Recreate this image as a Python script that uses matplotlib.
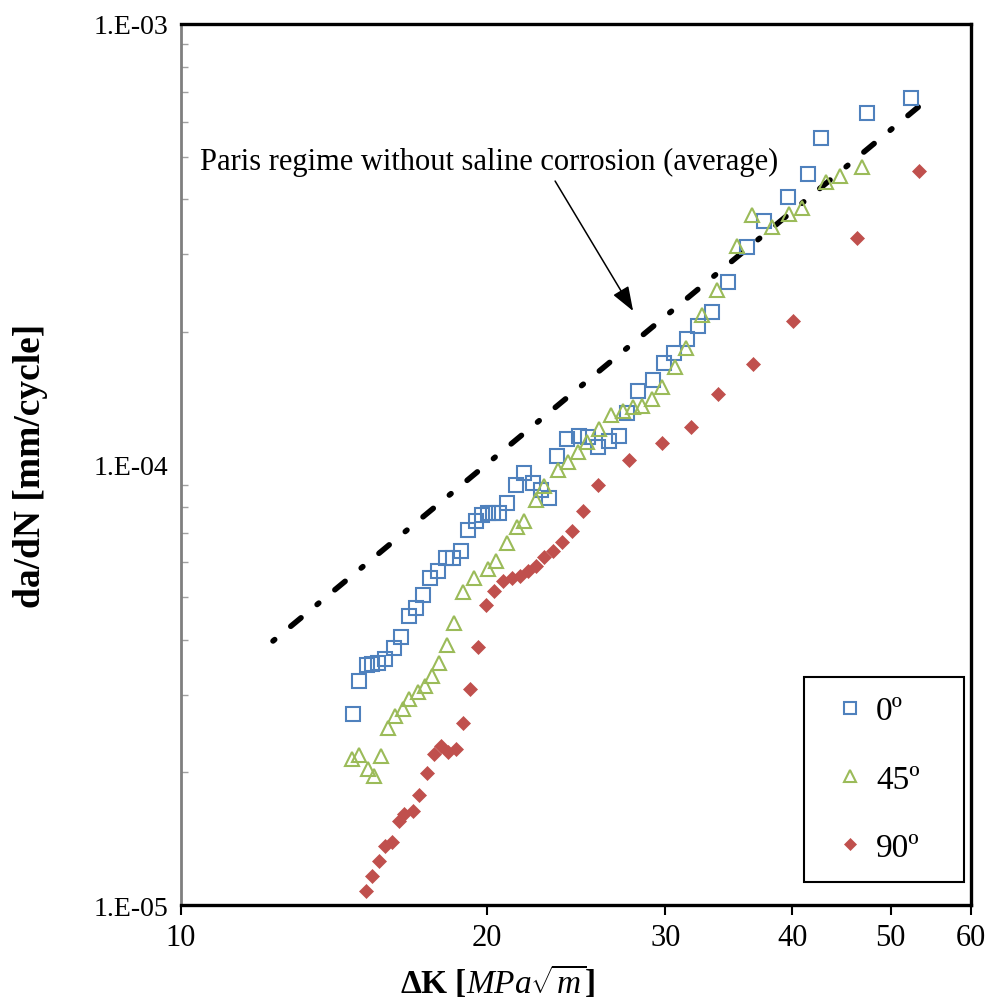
import numpy as np
import matplotlib
matplotlib.use( "Agg" )
import matplotlib.pyplot as plt
from matplotlib.ticker import FixedLocator, LogLocator, NullLocator, FuncFormatter

# --- data --- #
dk_0 = [ 14.78, 14.98, 15.26, 15.43, 15.64, 15.89, 16.22, 16.48, 16.78, 17.04,
	17.32, 17.60, 17.92, 18.25, 18.54, 18.87, 19.18, 19.53, 19.80, 20.07,
	20.30, 20.58, 20.95, 21.39, 21.78, 22.23, 22.64, 23.05, 23.47, 24.01,
	24.67, 25.18, 25.76, 26.41, 27.01, 27.51, 28.20, 29.18, 29.91, 30.61,
	31.53, 32.32, 33.37, 34.60, 36.11, 37.50, 39.64, 41.48, 42.72, 47.42, 52.31 ]
dadn_0 = [ 2.72e-5, 3.23e-5, 3.51e-5, 3.53e-5, 3.55e-5, 3.62e-5, 3.83e-5, 4.06e-5, 4.53e-5, 4.73e-5,
	5.06e-5, 5.52e-5, 5.73e-5, 6.14e-5, 6.14e-5, 6.37e-5, 7.10e-5, 7.44e-5, 7.68e-5, 7.76e-5,
	7.76e-5, 7.76e-5, 8.19e-5, 8.98e-5, 9.58e-5, 9.09e-5, 8.76e-5, 8.41e-5, 1.045e-4, 1.143e-4,
	1.161e-4, 1.154e-4, 1.096e-4, 1.131e-4, 1.161e-4, 1.309e-4, 1.469e-4, 1.555e-4, 1.70e-4, 1.791e-4,
	1.927e-4, 2.063e-4, 2.219e-4, 2.596e-4, 3.117e-4, 3.571e-4, 4.048e-4, 4.565e-4, 5.51e-4, 6.28e-4, 6.79e-4 ]

dk_45 = [ 14.75, 14.98, 15.29, 15.50, 15.75, 15.99, 16.25, 16.55, 16.78, 17.12,
	17.40, 17.68, 17.96, 18.29, 18.58, 18.96, 19.44, 20.07, 20.44, 20.95,
	21.44, 21.78, 22.38, 22.79, 23.52, 24.06, 24.62, 25.12, 25.82, 26.53,
	27.25, 27.88, 28.46, 29.11, 29.78, 30.68, 31.46, 32.62, 33.75, 35.32,
	36.53, 38.21, 39.73, 40.92, 43.18, 44.59, 46.89 ]
dadn_45 = [ 2.15e-5, 2.19e-5, 2.04e-5, 1.96e-5, 2.18e-5, 2.52e-5, 2.69e-5, 2.79e-5, 2.94e-5, 3.05e-5,
	3.14e-5, 3.31e-5, 3.55e-5, 3.89e-5, 4.37e-5, 5.14e-5, 5.52e-5, 5.79e-5, 6.04e-5, 6.64e-5,
	7.22e-5, 7.44e-5, 8.32e-5, 8.94e-5, 9.73e-5, 1.013e-4, 1.067e-4, 1.125e-4, 1.204e-4, 1.295e-4,
	1.323e-4, 1.351e-4, 1.358e-4, 1.408e-4, 1.50e-4, 1.664e-4, 1.839e-4, 2.185e-4, 2.489e-4, 3.133e-4,
	3.685e-4, 3.461e-4, 3.704e-4, 3.822e-4, 4.378e-4, 4.518e-4, 4.736e-4 ]

dk_90 = [ 15.21, 15.43, 15.68, 15.89, 16.14, 16.40, 16.59, 16.93, 17.16, 17.47,
	17.75, 18.04, 18.33, 18.67, 18.96, 19.27, 19.62, 19.98, 20.35, 20.77,
	21.19, 21.58, 21.97, 22.38, 22.79, 23.26, 23.74, 24.28, 24.89, 25.76,
	27.63, 29.78, 31.77, 33.78, 36.61, 40.08, 46.33, 53.35 ]
dadn_90 = [ 1.076e-5, 1.164e-5, 1.259e-5, 1.361e-5, 1.390e-5, 1.551e-5, 1.609e-5, 1.634e-5, 1.777e-5, 1.994e-5,
	2.202e-5, 2.296e-5, 2.225e-5, 2.261e-5, 2.589e-5, 3.093e-5, 3.852e-5, 4.797e-5, 5.163e-5, 5.44e-5,
	5.526e-5, 5.584e-5, 5.731e-5, 5.883e-5, 6.166e-5, 6.362e-5, 6.67e-5, 7.064e-5, 7.842e-5, 8.985e-5,
	1.024e-4, 1.119e-4, 1.216e-4, 1.446e-4, 1.691e-4, 2.117e-4, 3.268e-4, 4.638e-4 ]

# Paris regime without saline corrosion (average), end points
paris_dk = [ 12.32, 54.6 ]
paris_dadn = [ 3.975e-5, 6.80e-4 ]

x_ticks = [ 10, 20, 30, 40, 50, 60 ]
y_ticks = [ 1e-5, 1e-4, 1e-3 ]
series_labels = [ "0º", "45º", "90º" ]

note_text = "Paris regime without saline corrosion (average)"
arrow_from = ( 23.36, 4.40e-4 )
arrow_to = ( 27.88, 2.231e-4 )

# --- end of data --- #

plt.rcParams['font.family'] = [ 'Liberation Serif', 'DejaVu Serif' ]
plt.rcParams['mathtext.fontset'] = 'custom'
plt.rcParams['mathtext.rm'] = 'Liberation Serif'
plt.rcParams['mathtext.it'] = 'Liberation Serif:italic'
plt.rcParams['mathtext.bf'] = 'Liberation Serif:bold'
plt.rcParams['lines.scale_dashes'] = False

blue = "#4F81BD"
green = "#9BBB59"
red = "#C0504D"

fig = plt.figure( figsize=( 9.94, 10.03 ), dpi=100 )
ax = fig.add_axes( [ 0.1821, 0.0967, 0.7948, 0.8784 ] )

ax.set_xscale( "log" )
ax.set_yscale( "log" )

ax.plot( dk_0, dadn_0, linestyle="none", marker="s", markersize=9.5, markerfacecolor="none",
	markeredgecolor=blue, markeredgewidth=1.5, label=series_labels[0] )
ax.plot( dk_45, dadn_45, linestyle="none", marker="^", markersize=10.5, markerfacecolor="none",
	markeredgecolor=green, markeredgewidth=1.5, label=series_labels[1] )
ax.plot( dk_90, dadn_90, linestyle="none", marker="D", markersize=7.4, markerfacecolor=red,
	markeredgecolor=red, markeredgewidth=0.5, label=series_labels[2] )

ax.plot( paris_dk, paris_dadn, color="black", linewidth=4.0,
	linestyle=( 0, ( 1.6, 15.0, 9.6, 15.0 ) ), dash_capstyle="round", zorder=1 )

ax.text( 0.024, 0.835, note_text, transform=ax.transAxes, fontsize=22, va="baseline", ha="left" )
ax.annotate( "", xy=arrow_to, xytext=arrow_from,
	arrowprops=dict( arrowstyle="-|>,head_length=0.6,head_width=0.22", mutation_scale=25,
		color="black", lw=1.1, shrinkA=0, shrinkB=0 ) )

ax.set_xlim( 10, 60 )
ax.set_ylim( 1e-5, 1e-3 )

# --- axes styling --- #
ax.xaxis.set_major_locator( FixedLocator( x_ticks ) )
ax.xaxis.set_minor_locator( NullLocator() )
ax.xaxis.set_major_formatter( FuncFormatter( lambda v, p: "%d" % v ) )
ax.tick_params( axis="x", which="major", direction="out", length=7, width=1.5,
	color="black", labelsize=22, pad=6 )

ax.yaxis.set_major_locator( FixedLocator( y_ticks ) )
ax.yaxis.set_minor_locator( LogLocator( base=10, subs=np.arange( 2, 10 ) ) )
ax.yaxis.set_major_formatter( FuncFormatter( lambda v, p: "1.E-%02d" % int( round( -np.log10( v ) ) ) ) )
ax.tick_params( axis="y", which="major", length=0, labelsize=20, pad=9 )
ax.tick_params( axis="y", which="minor", direction="in", length=5, width=1, color="#a0a0a0" )

for side in [ "top", "right", "bottom" ]:
	ax.spines[side].set_linewidth( 2.4 )
	ax.spines[side].set_color( "black" )
ax.spines['left'].set_linewidth( 2.0 )
ax.spines['left'].set_color( "#7f7f7f" )

ax.set_xlabel( r"$\mathbf{\Delta K\ [}\mathit{MPa}\sqrt{\mathit{m}}\mathbf{]}$", fontsize=24 )
ax.xaxis.set_label_coords( 0.4, -0.065 )
ax.set_ylabel( "da/dN [mm/cycle]", fontsize=27, fontweight="bold" )
ax.yaxis.set_label_coords( -0.168, 0.5 )

leg = ax.legend( loc="lower left", bbox_to_anchor=( 0.788, 0.026, 0.2025, 0.2315 ), mode="expand",
	fontsize=24, frameon=True, fancybox=False, edgecolor="black", framealpha=1, markerscale=0.85,
	handlelength=1.6, handletextpad=0.0, labelspacing=1.13, borderpad=0.58, borderaxespad=0 )
leg.get_frame().set_linewidth( 1.5 )

fig.savefig( "out.png", dpi=100 )
